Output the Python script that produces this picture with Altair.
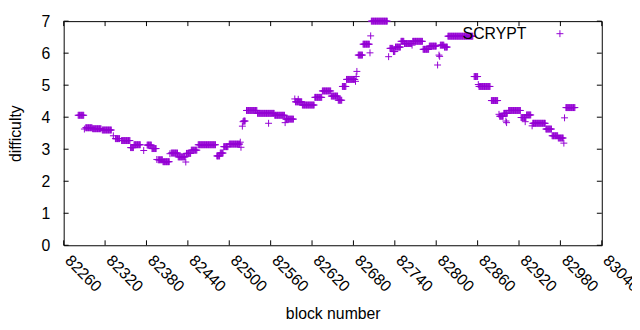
import altair as alt
import pandas as pd

# Runs of equal difficulty over consecutive blocks (first block, last block, value)
run_first = [82281, 82292, 82302, 82316, 82335, 82344, 82357, 82362, 82381, 82388,
             82397, 82404, 82416, 82426, 82438, 82445, 82455, 82482, 82487, 82492,
             82500, 82521, 82525, 82541, 82566, 82582, 82596, 82606, 82624, 82635,
             82648, 82658, 82664, 82670, 82687, 82694, 82706, 82733, 82738, 82741,
             82749, 82754, 82766, 82781, 82790, 82806, 82812, 82817, 82855, 82862,
             82880, 82892, 82898, 82905, 82923, 82931, 82940, 82959, 82968, 82977,
             82988]
run_last = [82289, 82301, 82314, 82329, 82341, 82356, 82361, 82371, 82387, 82394,
            82403, 82413, 82425, 82436, 82444, 82453, 82480, 82486, 82491, 82498,
            82515, 82523, 82540, 82565, 82580, 82593, 82605, 82623, 82634, 82647,
            82657, 82663, 82669, 82682, 82693, 82703, 82729, 82737, 82740, 82748,
            82753, 82764, 82780, 82789, 82800, 82811, 82816, 82853, 82860, 82878,
            82889, 82897, 82903, 82922, 82930, 82937, 82958, 82967, 82976, 82984,
            83001]
run_value = [4.06, 3.67, 3.64, 3.60, 3.33, 3.27, 3.05, 3.14, 3.13, 3.02,
             2.67, 2.61, 2.88, 2.76, 2.87, 2.97, 3.14, 2.79, 2.88, 3.08,
             3.16, 3.88, 4.21, 4.12, 4.06, 3.94, 4.48, 4.38, 4.62, 4.82,
             4.66, 4.53, 4.96, 5.18, 5.94, 6.28, 7.00, 6.15, 6.05, 6.19,
             6.37, 6.30, 6.37, 6.12, 6.22, 6.25, 6.19, 6.53, 5.27, 4.96,
             4.52, 4.03, 4.12, 4.21, 3.99, 4.07, 3.81, 3.63, 3.42, 3.35,
             4.30]

# Single outlying blocks
pt_block = [82290, 82332, 82376, 82395, 82414, 82437, 82516, 82517, 82519, 82520,
            82557, 82581, 82595, 82600, 82683, 82684, 82685, 82704, 82705, 82731,
            82765, 82802, 82804, 82805, 82861, 82891, 82901, 82902, 82929, 82939,
            82985, 82986]
pt_value = [3.63, 3.42, 2.96, 2.68, 2.86, 2.60, 3.22, 3.06, 3.72, 3.86,
            3.81, 3.83, 4.57, 4.56, 5.12, 5.27, 5.43, 6.01, 6.54, 5.89,
            6.25, 5.63, 5.94, 5.90, 5.02, 4.09, 3.88, 3.83, 3.86, 3.73,
            3.19, 3.98]

x_ticks = [82260, 82320, 82380, 82440, 82500, 82560, 82620, 82680, 82740,
           82800, 82860, 82920, 82980, 83040]
y_ticks = [0, 1, 2, 3, 4, 5, 6, 7]
series_name = "SCRYPT"

blocks, values = [], []
for a, b, v in zip(run_first, run_last, run_value):
    for blk in range(a, b + 1):
        blocks.append(blk)
        values.append(v)
blocks += pt_block
values += pt_value
df = pd.DataFrame({"block": blocks, "difficulty": values})

W, H = 545, 227
FONT = "Liberation Sans"
FS = 16
COLOR = "#9400D3"
PLUS = "M-1,0H1M0,-1V1"

xscale = alt.Scale(domain=[82260, 83040], nice=False, zero=False)
yscale = alt.Scale(domain=[0, 7], nice=False, zero=True)

xaxis = alt.Axis(
    values=x_ticks, format="d", labelAngle=45, labelAlign="left",
    labelBaseline="alphabetic", labelPadding=16, ticks=False, tickSize=0,
    domain=False, grid=False, labelFlush=False, labelOverlap=False,
    labelBound=False,
    labelFont=FONT, labelFontSize=FS, labelColor="black",
    title="block number", titleFont=FONT, titleFontSize=FS,
    titleFontWeight="normal", titleColor="black", titleY=74,
    titleX=W / 2, titleBaseline="alphabetic", titleAlign="center")
yaxis = alt.Axis(
    values=y_ticks, tickCount=8, labelPadding=14, ticks=False, tickSize=0,
    domain=False, grid=False, labelOverlap=False, labelFlush=False,
    labelFont=FONT, labelFontSize=FS, labelColor="black",
    labelBaseline="middle",
    title="difficulty", titleFont=FONT, titleFontSize=FS,
    titleFontWeight="normal", titleColor="black", titleX=-41, titleY=H / 2,
    titleAngle=270, titleBaseline="bottom", titleAlign="center")

points = alt.Chart(df).mark_point(
    shape=PLUS, size=49, filled=False, strokeWidth=1, color=COLOR, opacity=1
).encode(
    x=alt.X("block:Q", scale=xscale, axis=xaxis, title="block number"),
    y=alt.Y("difficulty:Q", scale=yscale, axis=yaxis, title="difficulty"),
)

xt = pd.DataFrame({"t": x_ticks})
yt = pd.DataFrame({"t": y_ticks})
tick_bottom = alt.Chart(xt).mark_rule(color="black", strokeWidth=1).encode(
    x=alt.X("t:Q", scale=xscale, axis=xaxis, title="block number"),
    y=alt.value(H), y2=alt.value(H - 5))
tick_top = alt.Chart(xt).mark_rule(color="black", strokeWidth=1).encode(
    x=alt.X("t:Q", scale=xscale, axis=xaxis, title="block number"),
    y=alt.value(0), y2=alt.value(5))
tick_left = alt.Chart(yt).mark_rule(color="black", strokeWidth=1).encode(
    y=alt.Y("t:Q", scale=yscale, axis=yaxis, title="difficulty"),
    x=alt.value(0), x2=alt.value(5))
tick_right = alt.Chart(yt).mark_rule(color="black", strokeWidth=1).encode(
    y=alt.Y("t:Q", scale=yscale, axis=yaxis, title="difficulty"),
    x=alt.value(W), x2=alt.value(W - 5))

leg = pd.DataFrame({"label": [series_name]})
leg_text = alt.Chart(leg).mark_text(
    align="right", baseline="middle", font=FONT, fontSize=FS, color="black"
).encode(text="label:N", x=alt.value(468.6), y=alt.value(12.7))
leg_mark = alt.Chart(leg).mark_point(
    shape=PLUS, size=49, filled=False, strokeWidth=1, color=COLOR, opacity=1
).encode(x=alt.value(502.6), y=alt.value(12.7))

chart = alt.layer(
    points, tick_bottom, tick_top, tick_left, tick_right, leg_text, leg_mark
).resolve_scale(x="shared", y="shared").properties(
    width=W, height=H,
    autosize=alt.AutoSizeParams(type="none"),
    padding={"left": 56.4, "top": 11.3, "right": 30.6, "bottom": 76},
    background="white",
).configure_view(stroke="black", strokeWidth=1)

chart.save("out.html", embed_options={"renderer": "svg", "actions": False})
